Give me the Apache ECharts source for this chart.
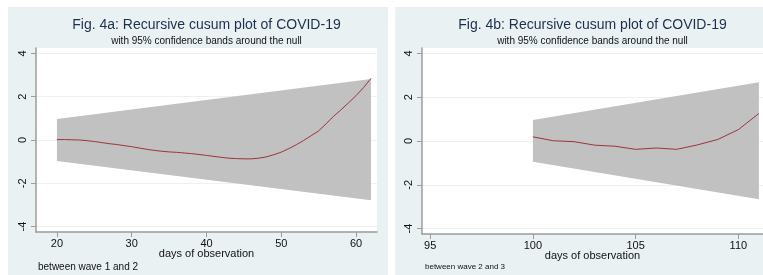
<!DOCTYPE html>
<html>
<head>
<meta charset="utf-8">
<script src="https://cdn.jsdelivr.net/npm/echarts@6/dist/echarts.min.js"></script>
<style>
  html, body { margin: 0; padding: 0; background: #ffffff; }
  body { width: 763px; height: 275px; position: relative; overflow: hidden; }
  .panel { position: absolute; top: 7px; height: 268px; background: #eaf1f3; }
  #p1 { left: 8px; width: 380px; }
  #p2 { left: 395px; width: 368px; }
</style>
</head>
<body>
<div id="p1" class="panel"></div>
<div id="p2" class="panel"></div>
<script>
// Fig. 4a: days 20..62
const days1 = [20, 21, 22, 23, 24, 25, 26, 27, 28, 29, 30, 31, 32, 33, 34, 35, 36, 37, 38, 39, 40,
  41, 42, 43, 44, 45, 46, 47, 48, 49, 50, 51, 52, 53, 54, 55, 56, 57, 58, 59, 60, 61, 62]
const cusum1 = [0.02, 0.02, 0.01, 0.0, -0.03, -0.07, -0.12, -0.17, -0.21, -0.26, -0.31, -0.37, -0.43,
  -0.48, -0.52, -0.55, -0.57, -0.6, -0.63, -0.67, -0.71, -0.76, -0.8, -0.84, -0.86, -0.87, -0.87,
  -0.84, -0.78, -0.68, -0.56, -0.4, -0.22, -0.02, 0.2, 0.42, 0.75, 1.1, 1.4, 1.72, 2.05, 2.42, 2.85]
const bandDays1 = [20, 62]
const bandUpper1 = [0.97, 2.82]
const bandLower1 = [-0.97, -2.78]
const xTicks1 = [20, 30, 40, 50, 60]

// Fig. 4b: days 100..111
const days2 = [100, 101, 102, 103, 104, 105, 106, 107, 108, 109, 110, 111]
const cusum2 = [0.19, 0.01, -0.03, -0.19, -0.24, -0.38, -0.32, -0.38, -0.18, 0.07, 0.52, 1.26]
const bandDays2 = [100, 111]
const bandUpper2 = [0.96, 2.68]
const bandLower2 = [-0.95, -2.66]
const xTicks2 = [95, 100, 105, 110]

const yTicks = [-4, -2, 0, 2, 4]

const titles = ['Fig. 4a: Recursive cusum plot of COVID-19', 'Fig. 4b: Recursive cusum plot of COVID-19']
const subtitle = 'with 95% confidence bands around the null'
const xName = 'days of observation'
const notes = ['between wave 1 and 2', 'between wave 2 and 3']

const FONT = '"Liberation Sans", Arial, sans-serif'
const AXIS_GRAY = '#9c9c9c'

function pairs(xs, ys) {
  return xs.map((x, i) => [x, ys[i]])
}

function buildPanel(el, cfg) {
  const chart = echarts.init(el, null, { renderer: 'canvas' })
  const gridCenter = cfg.grid.left + (el.clientWidth - cfg.grid.left - cfg.grid.right) / 2
  const bandRows = cfg.bandDays.map((d, i) => [d, cfg.bandUpper[i], cfg.bandLower[i]])

  // confidence band as one polygon: upper edge forward, lower edge back
  function renderBand(params, api) {
    if (params.dataIndexInside !== 0) return
    const upper = bandRows.map(r => api.coord([r[0], r[1]]))
    const lower = bandRows.map(r => api.coord([r[0], r[2]])).reverse()
    return {
      type: 'polygon',
      shape: { points: upper.concat(lower) },
      style: { fill: '#c1c1c1', stroke: null }
    }
  }

  chart.setOption({
    animation: false,
    backgroundColor: 'transparent',
    grid: Object.assign({ show: true, backgroundColor: '#ffffff', borderWidth: 0 }, cfg.grid),
    graphic: [
      {
        type: 'text',
        x: gridCenter,
        y: 18,
        style: {
          text: cfg.title,
          font: '14px ' + FONT,
          fill: '#1c2f4e',
          textAlign: 'center',
          textVerticalAlign: 'middle'
        }
      },
      {
        type: 'text',
        x: gridCenter,
        y: 34,
        style: {
          text: subtitle,
          font: '10px ' + FONT,
          fill: '#111111',
          textAlign: 'center',
          textVerticalAlign: 'middle'
        }
      },
      {
        type: 'text',
        x: cfg.noteX,
        y: 260,
        style: {
          text: cfg.note,
          font: cfg.noteSize + 'px ' + FONT,
          fill: '#111111',
          textAlign: 'left',
          textVerticalAlign: 'middle'
        }
      }
    ],
    xAxis: {
      type: 'value',
      min: cfg.xMin,
      max: cfg.xMax,
      name: xName,
      nameLocation: 'middle',
      nameGap: 16,
      nameMoveOverlap: false,
      nameTextStyle: { fontFamily: FONT, fontSize: 11, color: '#111111' },
      axisLine: { show: true, onZero: false, lineStyle: { color: AXIS_GRAY, width: 1.5 } },
      axisTick: { show: true, length: 5, lineStyle: { color: AXIS_GRAY }, customValues: cfg.xTicks },
      axisLabel: { fontFamily: FONT, fontSize: 11, color: '#111111', margin: 6, customValues: cfg.xTicks },
      splitLine: { show: false }
    },
    yAxis: {
      type: 'value',
      min: -4.25,
      max: 4.25,
      axisLine: { show: true, onZero: false, lineStyle: { color: AXIS_GRAY, width: 1.5 } },
      axisTick: { show: true, length: 5, lineStyle: { color: AXIS_GRAY }, customValues: yTicks },
      axisLabel: { fontFamily: FONT, fontSize: 11, color: '#111111', rotate: 90, margin: 8, customValues: yTicks },
      splitLine: { show: true, lineStyle: { color: '#eaf2f3', width: 1 } }
    },
    series: [
      {
        name: 'band',
        type: 'custom',
        data: bandRows,
        encode: { x: 0, y: [1, 2] },
        renderItem: renderBand,
        silent: true,
        z: 1
      },
      {
        name: 'CUSUM',
        type: 'line',
        data: pairs(cfg.days, cfg.cusum),
        symbol: 'none',
        lineStyle: { color: '#a0323c', width: 1 },
        z: 5
      }
    ]
  })
  return chart
}

buildPanel(document.getElementById('p1'), {
  grid: { left: 28, top: 41, right: 11, bottom: 43 },
  xMin: 17.2, xMax: 62.8,
  xTicks: xTicks1,
  days: days1, cusum: cusum1,
  bandDays: bandDays1, bandUpper: bandUpper1, bandLower: bandLower1,
  title: titles[0], note: notes[0], noteX: 30, noteSize: 10
})

buildPanel(document.getElementById('p2'), {
  grid: { left: 27, top: 41, right: 0, bottom: 41 },
  xMin: 94.6, xMax: 111.2,
  xTicks: xTicks2,
  days: days2, cusum: cusum2,
  bandDays: bandDays2, bandUpper: bandUpper2, bandLower: bandLower2,
  title: titles[1], note: notes[1], noteX: 30, noteSize: 8
})
</script>
</body>
</html>
